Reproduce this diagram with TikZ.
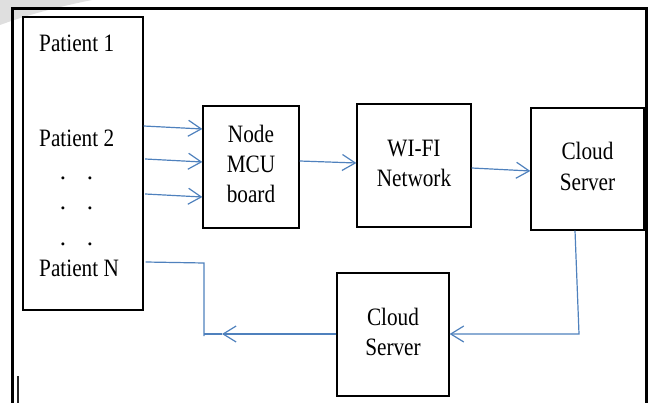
\documentclass[tikz,border=0pt]{standalone}
\usepackage{fontspec}
\setmainfont{Liberation Serif}
\usetikzlibrary{arrows.meta}
\definecolor{lnblue}{RGB}{79,129,189}
\newcommand{\sxq}[1]{\scalebox{0.85}[1]{#1}}
\newcommand{\mlines}[1]{\sxq{\begin{tabular}{@{}c@{}}#1\end{tabular}}}
\begin{document}
\begin{tikzpicture}[x=1pt,y=-1pt,
  box/.style={draw=black, line width=1.3pt, inner sep=0pt, font=\fontsize{25}{30}\selectfont},
  lbl/.style={inner sep=0pt, font=\fontsize{25}{30}\selectfont},
  conn/.style={draw=lnblue, line width=1.2pt},
  arr/.style={conn, -{Straight Barb[length=13pt,width=16pt,line width=1.2pt]}}]
\useasboundingbox (0,0) rectangle (652,403);
% watermark remnant
\fill[gray!25] (0,0) -- (92,0) .. controls (62,6) and (30,14) .. (0,25) -- cycle;
% outer frame
\draw[line width=3pt] (12.5,403) -- (12.5,9) -- (646.5,9) -- (646.5,403);
\draw[line width=2pt, black!85] (18,376) -- (18,403);
% boxes
\node[box, minimum width=120pt, minimum height=293pt] (pat) at (83,163.5) {};
\node[box, minimum width=96pt, minimum height=122pt] (mcu) at (251,167) {\mlines{Node\\MCU\\board}};
\node[box, minimum width=114pt, minimum height=123pt] (wifi) at (414,165.5) {\mlines{WI-FI\\Network}};
\node[box, minimum width=113pt, minimum height=122pt] (cs1) at (587.5,169) {\mlines{Cloud\\Server}};
\node[box, minimum width=112pt, minimum height=123pt] (cs2) at (393,334.5) {\mlines{Cloud\\Server}};
% patient texts
\node[lbl, anchor=base west] (p1) at (39,52) {\sxq{Patient 1}};
\node[lbl, anchor=base west] (p2) at (39,147) {\sxq{Patient 2}};
\node[lbl, anchor=base west] (pn) at (39,276) {\sxq{Patient N}};
\node[lbl, anchor=base] (d1a) at (63,180) {.};
\node[lbl, anchor=base] (d1b) at (90,180) {.};
\node[lbl, anchor=base] (d2a) at (63,210) {.};
\node[lbl, anchor=base] (d2b) at (90,210) {.};
\node[lbl, anchor=base] (d3a) at (63,245) {.};
\node[lbl, anchor=base] (d3b) at (90,245) {.};
% connectors
\coordinate (a1s) at (pat.east |- 0,126);
\coordinate (a1e) at (mcu.west |- 0,129);
\coordinate (a2s) at ([xshift=1.5pt]pat.east |- 0,159);
\coordinate (a2e) at (mcu.west |- 0,162);
\coordinate (a3s) at ([xshift=1.5pt]pat.east |- 0,194);
\coordinate (a3e) at (mcu.west |- 0,197);
\draw[arr] (a1s) -- (a1e);
\draw[arr] (a2s) -- (a2e);
\draw[arr] (a3s) -- (a3e);
\coordinate (b1s) at (mcu.east |- 0,161);
\coordinate (b1e) at (wifi.west |- 0,163);
\draw[arr] (b1s) -- (b1e);
\coordinate (c1s) at (wifi.east |- 0,168);
\coordinate (c1e) at (cs1.west |- 0,171);
\draw[arr] (c1s) -- (c1e);
\coordinate (d1s) at (cs1.south -| 575,0);
\coordinate (d1c) at (579,334);
\draw[arr] (d1s) -- (d1c) -- (cs2.east |- d1c);
\coordinate (etip) at (222,334);
\coordinate (ecor) at (204,334);
\draw[arr] (cs2.west |- etip) -- (etip);
\draw[conn] (etip) -- (ecor);
\coordinate (fbot) at (204,336);
\coordinate (ftop) at (204,263);
\coordinate (fend) at ([xshift=2pt]pat.east |- 0,262);
\draw[conn] (fbot) -- (ftop) -- (fend);
\end{tikzpicture}
\end{document}
